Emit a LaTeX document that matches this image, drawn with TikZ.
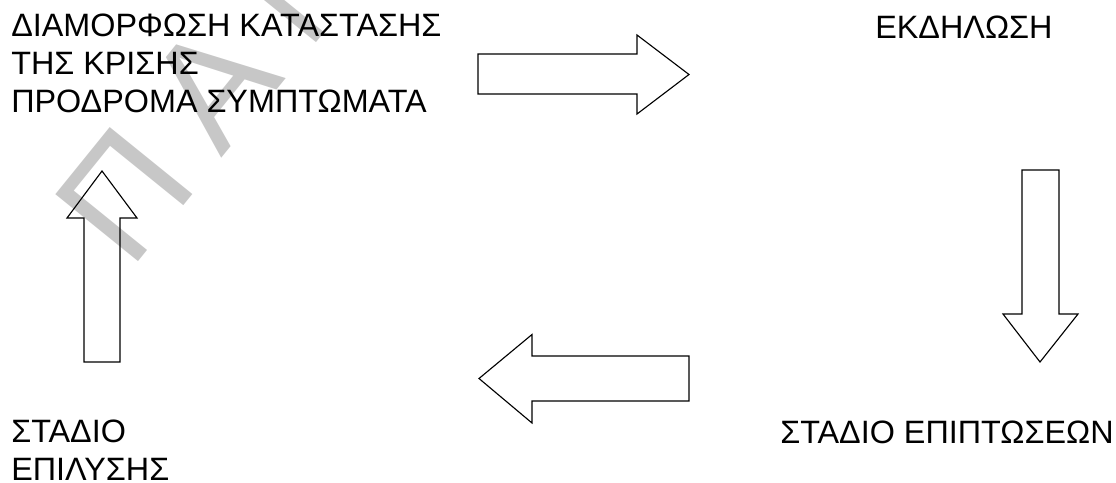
\documentclass[tikz,border=0pt]{standalone}
\usepackage{fontspec}
\setmainfont{Liberation Sans}
\newfontfamily\markfont[LetterSpace=22]{Liberation Sans}
\usepackage{tikz}
\usetikzlibrary{positioning}

\begin{document}
\begin{tikzpicture}[x=0.025cm, y=-0.025cm,
    label/.style={inner sep=0pt, anchor=base west, align=left,
        font=\fontsize{23}{26.7}\selectfont},
    blockarrow/.style={draw, line width=0.8pt, line join=miter}]
\useasboundingbox (0,0) rectangle (1116,482);

% faint watermark behind everything
\begin{scope}
\clip (0,0) rectangle (1116,482);
\node[inner sep=0pt, anchor=base west, rotate=51, text=black!22,
    font=\markfont\fontsize{110}{110}\selectfont] (mark) at (130,272) {ΠΑΝ};
\end{scope}

% the four stages (base = last line)
\node[label] (shaping) at (11,112) {ΔΙΑΜΟΡΦΩΣΗ ΚΑΤΑΣΤΑΣΗΣ\\ΤΗΣ ΚΡΙΣΗΣ\\ΠΡΟΔΡΟΜΑ ΣΥΜΠΤΩΜΑΤΑ};
\node[label] (outbreak) at (875,38) {ΕΚΔΗΛΩΣΗ};
\node[label] (impact) at (780,443) {ΣΤΑΔΙΟ ΕΠΙΠΤΩΣΕΩΝ};
\node[label] (resolve) at (11,480) {ΣΤΑΔΙΟ\\ΕΠΙΛΥΣΗΣ};

% block arrows of the cycle
\draw[blockarrow] (478,54) -- (637,54) -- (637,35) -- (689,74.5)
    -- (637,114) -- (637,94) -- (478,94) -- cycle;
\draw[blockarrow] (1022,170) -- (1059,170) -- (1059,314) -- (1078,314)
    -- (1040,362) -- (1003,314) -- (1022,314) -- cycle;
\draw[blockarrow] (689,356) -- (532,356) -- (532,334.5) -- (479,378.5)
    -- (532,423) -- (532,401) -- (689,401) -- cycle;
\draw[blockarrow] (84,362) -- (84,218) -- (67,218) -- (102,171)
    -- (137,218) -- (120,218) -- (120,362) -- cycle;
\end{tikzpicture}
\end{document}
